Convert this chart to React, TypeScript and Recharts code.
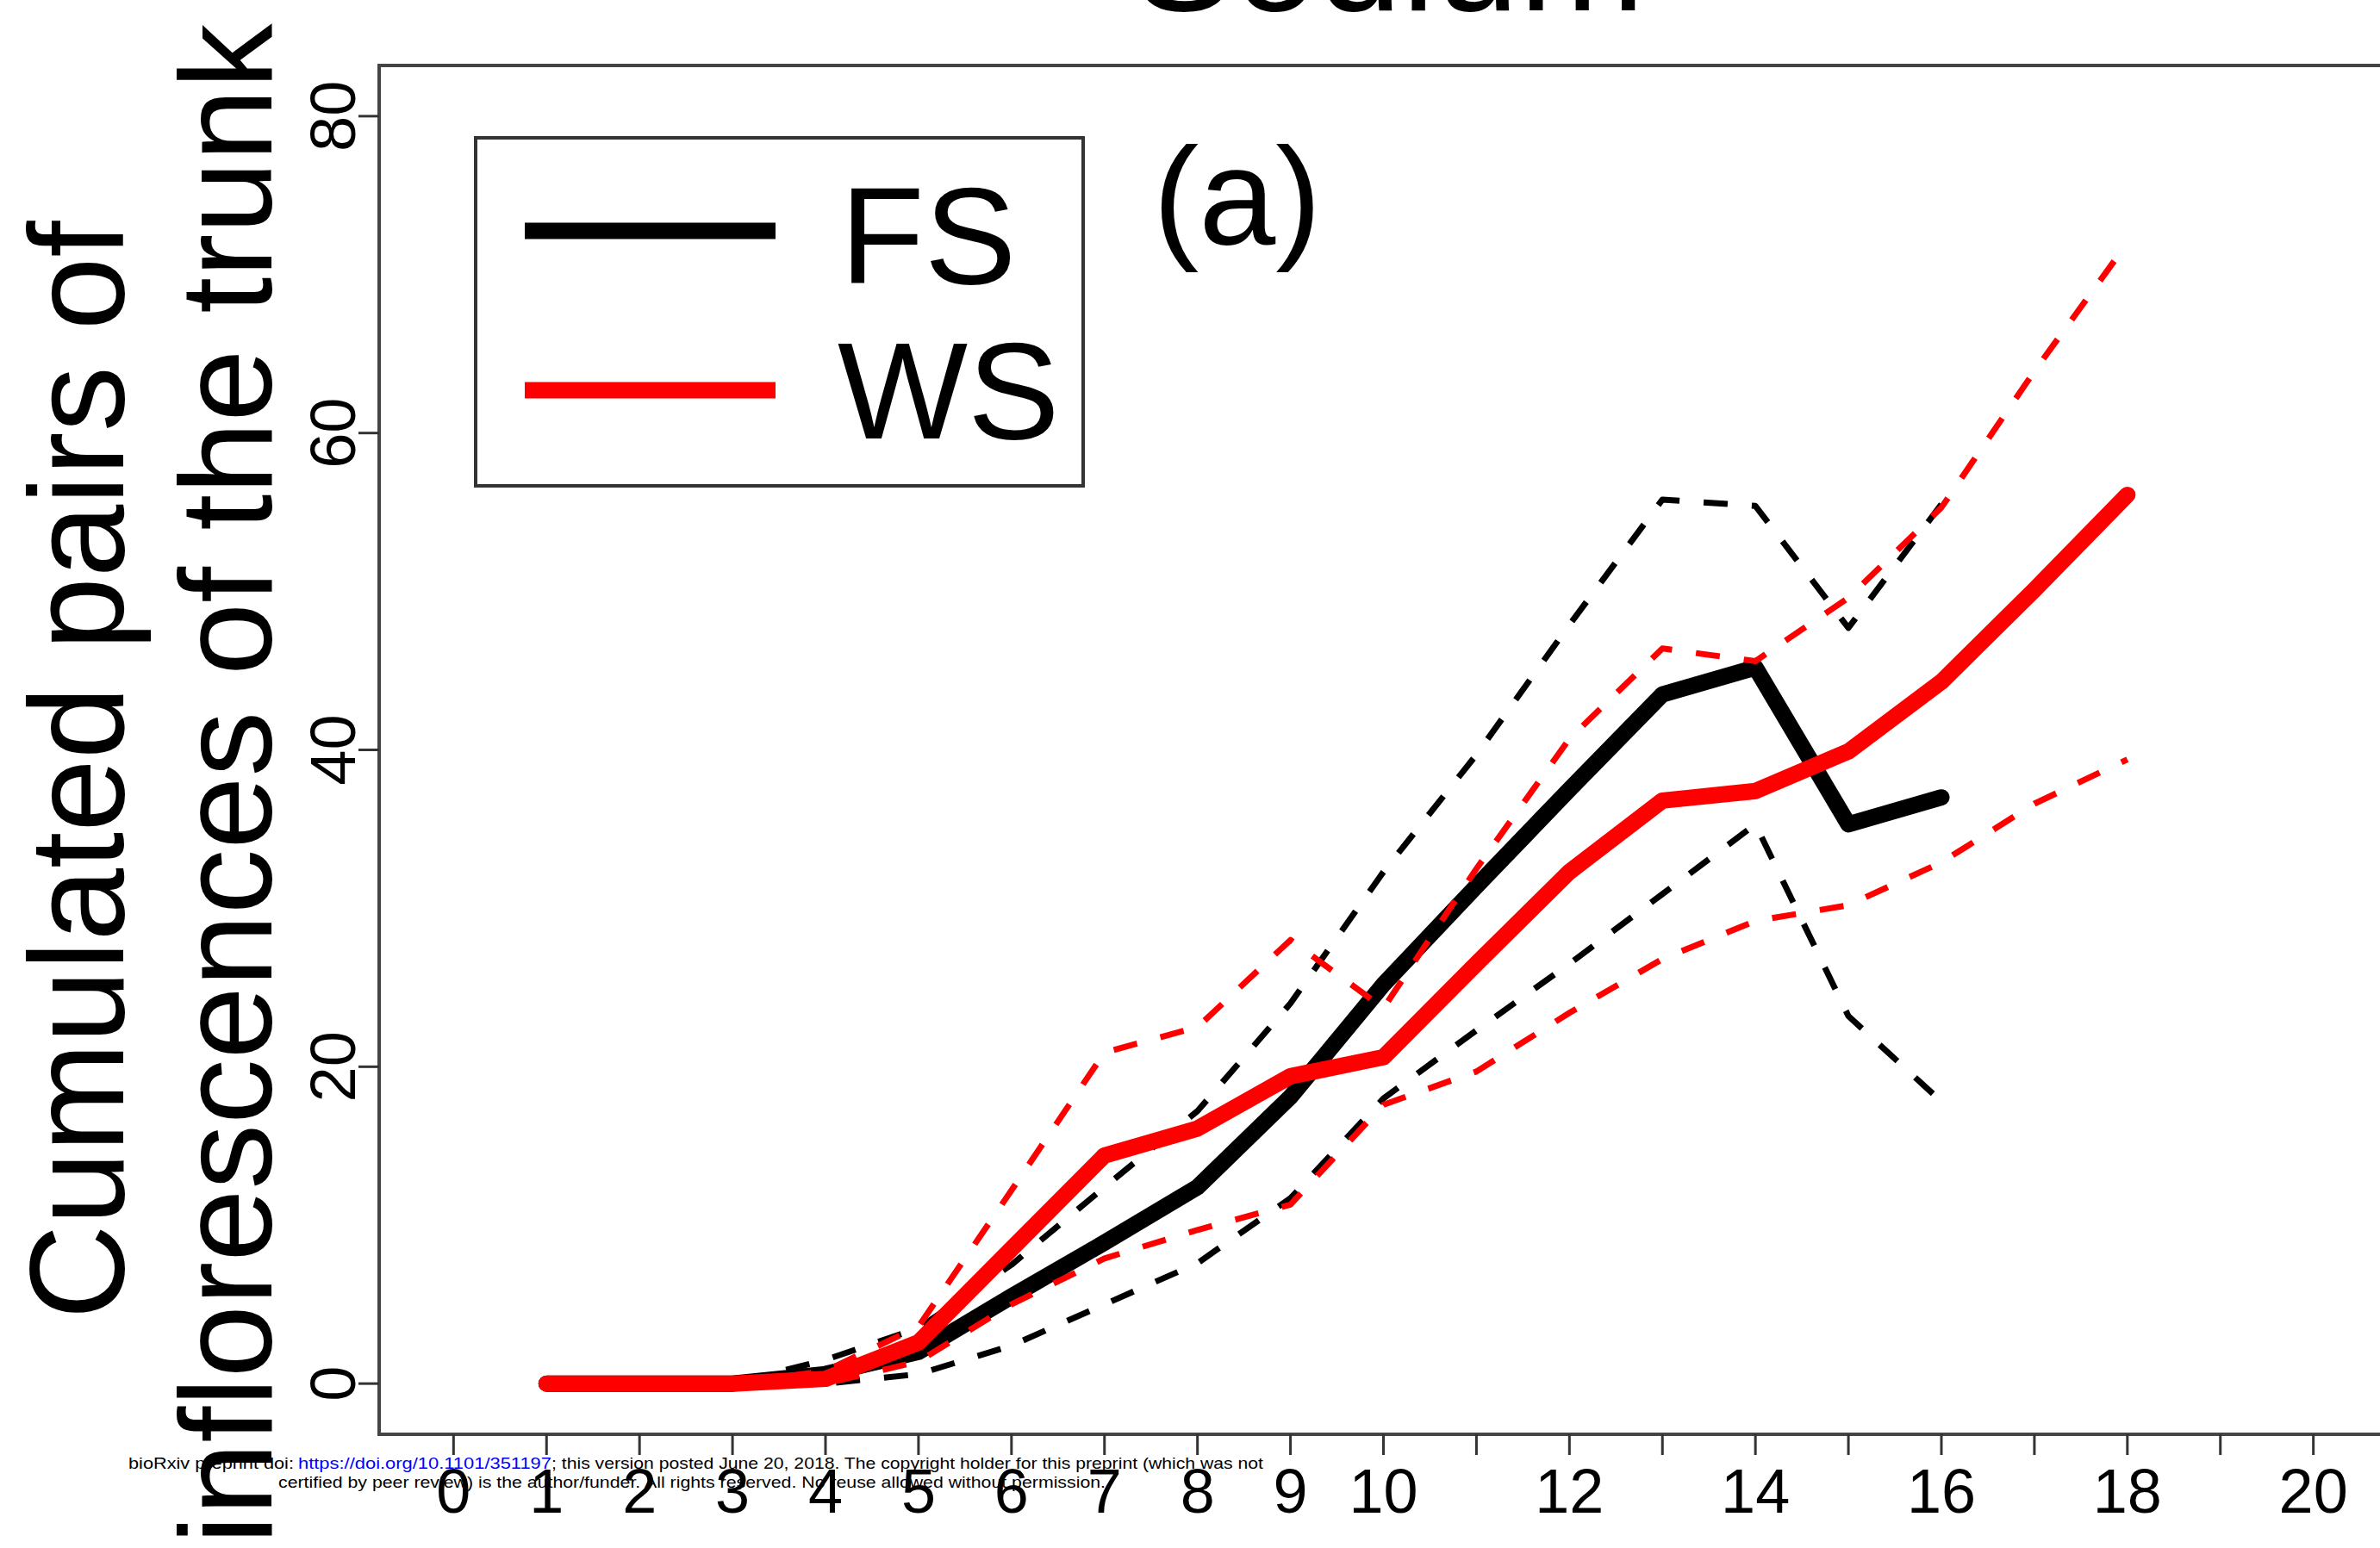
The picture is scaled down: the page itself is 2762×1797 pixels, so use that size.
import React from 'react';
import { LineChart, Line, XAxis, YAxis, ReferenceArea } from 'recharts';

const FONT = '"Liberation Sans", Arial, Helvetica, sans-serif';

// weeks (x) and cumulated pairs of inflorescences (y)
const days = [1, 2, 3, 4, 5, 6, 7, 8, 9, 10, 11, 12, 13, 14, 15, 16, 17, 18];
const fsMean = [0, 0, 0, 0.6, 2.0, 5.5, 8.9, 12.4, 18.1, 25.2, 31.4, 37.5, 43.5, 45.2, 35.3, 37.0];
const fsUpper = [0, 0, 0, 1.5, 3.5, 7.5, 12.4, 17.2, 24.0, 32.3, 39.7, 47.9, 55.8, 55.4, 47.7, 55.5];
const fsLower = [0, 0, 0, 0, 0.6, 2.4, 5.0, 7.6, 11.7, 18.0, 22.3, 26.5, 30.9, 35.3, 23.2, 17.8];
const wsMean = [0, 0, 0, 0.3, 2.6, 8.5, 14.4, 16.1, 19.4, 20.6, 26.5, 32.3, 36.8, 37.4, 39.9, 44.3, 50.1, 56.1];
const wsUpper = [0, 0, 0, 0.8, 3.6, 12.2, 20.9, 22.5, 28.0, 23.7, 32.5, 40.7, 46.4, 45.6, 49.6, 55.3, 63.9, 72.0];
const wsLower = [0, 0, 0, 0, 1.4, 5.0, 7.9, 9.7, 11.3, 17.6, 19.7, 23.4, 26.8, 29.2, 30.2, 32.9, 36.6, 39.4];

const xTicks = [0, 1, 2, 3, 4, 5, 6, 7, 8, 9, 10, 11, 12, 13, 14, 15, 16, 17, 18, 19, 20];
const xTickLabels = [0, 1, 2, 3, 4, 5, 6, 7, 8, 9, 10, 12, 14, 16, 18, 20];
const yTicks = [0, 20, 40, 60, 80];

const toPoints = (vals: number[]) => vals.map((v, i) => ({ x: days[i], y: v }));

const XTick = (props: any) => {
  const { x, y, payload } = props;
  const label = xTickLabels.includes(payload.value) ? String(payload.value) : '';
  return (
    <text x={x} y={y + 65} textAnchor="middle" fontSize={72} fontFamily={FONT} fill="#000">
      {label}
    </text>
  );
};

const YTick = (props: any) => {
  const { x, y, payload } = props;
  return (
    <text
      transform={`translate(${x - 2},${y}) rotate(-90)`}
      textAnchor="middle"
      fontSize={74}
      fontFamily={FONT}
      fill="#000"
    >
      {payload.value}
    </text>
  );
};

const App: React.FC = () => {
  return (
    <div style={{ position: 'absolute', left: 0, top: 0, width: 2762, height: 1797, overflow: 'hidden', background: '#fff' }}>
      <LineChart width={2800} height={1797} margin={{ top: 76, right: 29, bottom: 0, left: 300 }}>
        <ReferenceArea
          x1={-0.8}
          x2={20.8}
          y1={-3.2}
          y2={83.2}
          fill="none"
          stroke="#444"
          strokeWidth={4}
          ifOverflow="visible"
        />
        <XAxis
          type="number"
          dataKey="x"
          domain={[-0.8, 20.8]}
          ticks={xTicks}
          allowDataOverflow
          height={132}
          axisLine={false}
          tickSize={24}
          tickLine={{ stroke: '#333', strokeWidth: 3 }}
          tick={<XTick />}
          interval={0}
        />
        <YAxis
          type="number"
          dataKey="y"
          domain={[-3.2, 83.2]}
          ticks={yTicks}
          allowDataOverflow
          width={140}
          axisLine={false}
          tickSize={24}
          tickLine={{ stroke: '#333', strokeWidth: 3 }}
          tick={<YTick />}
          interval={0}
        />
        <Line data={toPoints(fsMean)} dataKey="y" stroke="#000" strokeWidth={19} dot={false} strokeLinejoin="round" strokeLinecap="round" isAnimationActive={false} />
        <Line data={toPoints(fsLower)} dataKey="y" stroke="#000" strokeWidth={7} strokeDasharray="28 28" dot={false} strokeLinejoin="round" isAnimationActive={false} />
        <Line data={toPoints(fsUpper)} dataKey="y" stroke="#000" strokeWidth={7} strokeDasharray="28 28" dot={false} strokeLinejoin="round" isAnimationActive={false} />
        <Line data={toPoints(wsMean)} dataKey="y" stroke="#ff0000" strokeWidth={19} dot={false} strokeLinejoin="round" strokeLinecap="round" isAnimationActive={false} />
        <Line data={toPoints(wsLower)} dataKey="y" stroke="#ff0000" strokeWidth={7} strokeDasharray="28 28" dot={false} strokeLinejoin="round" isAnimationActive={false} />
        <Line data={toPoints(wsUpper)} dataKey="y" stroke="#ff0000" strokeWidth={7} strokeDasharray="28 28" dot={false} strokeLinejoin="round" isAnimationActive={false} />
      </LineChart>

      <svg
        width={2762}
        height={1797}
        style={{ position: 'absolute', left: 0, top: 0, pointerEvents: 'none', overflow: 'hidden' }}
        fontFamily={FONT}
      >
        {/* title, mostly cut off at the top edge */}
        <text x={1612} y={12} textAnchor="middle" fontSize={175} fill="#000">Sodium</text>

        {/* y axis title, two lines */}
        <text
          transform="translate(143,894) rotate(-90)"
          textAnchor="middle"
          fontSize={155}
          fill="#000"
          textLength={1275}
          lengthAdjust="spacingAndGlyphs"
        >
          Cumulated pairs of
        </text>
        <text
          transform="translate(315,910) rotate(-90)"
          textAnchor="middle"
          fontSize={153}
          fill="#000"
          textLength={1765}
          lengthAdjust="spacingAndGlyphs"
        >
          inflorescences of the trunk
        </text>

        {/* legend */}
        <rect x={552} y={160} width={705} height={404} fill="#fff" stroke="#333" strokeWidth={4} />
        <line x1={609} x2={900} y1={268} y2={268} stroke="#000" strokeWidth={19} />
        <line x1={609} x2={900} y1={453} y2={453} stroke="#ff0000" strokeWidth={19} />
        <text x={975} y={329} fontSize={160} fill="#000">FS</text>
        <text x={972} y={509} fontSize={160} fill="#000">WS</text>

        <text x={1338} y={283} fontSize={160} fill="#000">(a)</text>

        {/* preprint watermark */}
        <text x={149} y={1705} fontSize={19} fill="#000" textLength={192} lengthAdjust="spacingAndGlyphs">
          bioRxiv preprint doi:
        </text>
        <text x={346} y={1705} fontSize={19} fill="#0000ff" textLength={294} lengthAdjust="spacingAndGlyphs">
          https://doi.org/10.1101/351197
        </text>
        <text x={640} y={1705} fontSize={19} fill="#000" textLength={826} lengthAdjust="spacingAndGlyphs">
          ; this version posted June 20, 2018. The copyright holder for this preprint (which was not
        </text>
        <text x={323} y={1727} fontSize={19} fill="#000" textLength={960} lengthAdjust="spacingAndGlyphs">
          certified by peer review) is the author/funder. All rights reserved. No reuse allowed without permission.
        </text>
      </svg>
    </div>
  );
};

export default App;
